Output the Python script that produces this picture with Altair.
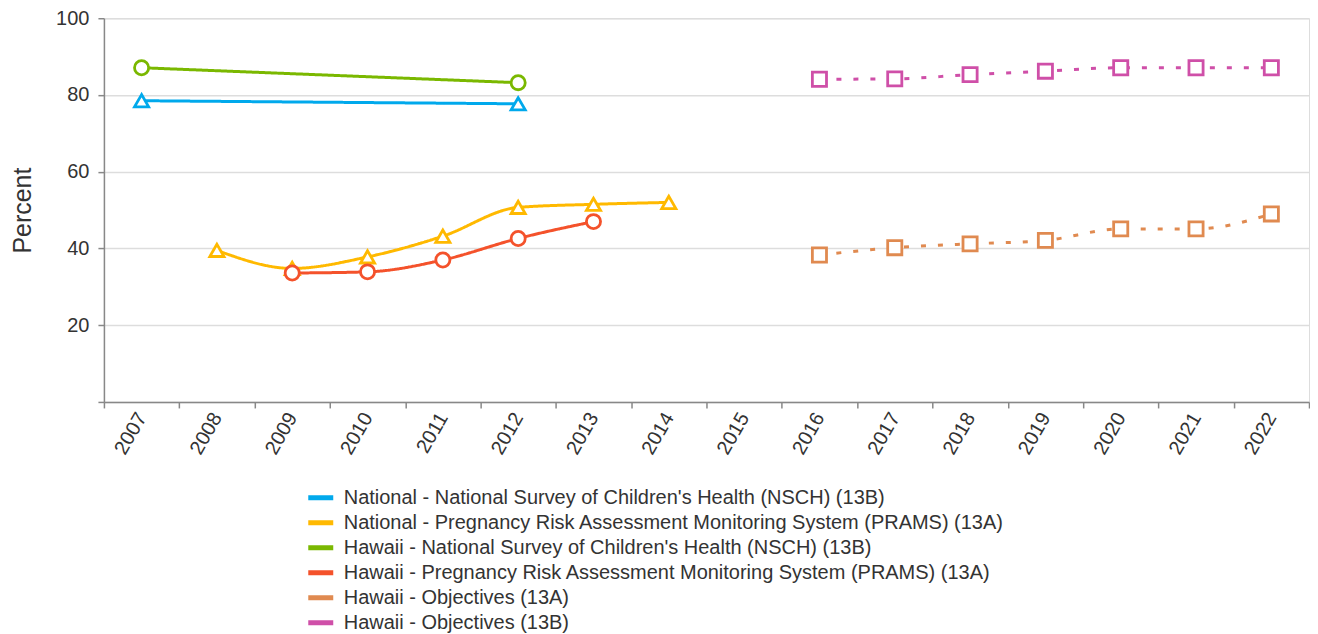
import altair as alt
import pandas as pd

years = [str(y) for y in range(2007, 2023)]

series_names = [
    "National - National Survey of Children's Health (NSCH) (13B)",
    "National - Pregnancy Risk Assessment Monitoring System (PRAMS) (13A)",
    "Hawaii - National Survey of Children's Health (NSCH) (13B)",
    "Hawaii - Pregnancy Risk Assessment Monitoring System (PRAMS) (13A)",
    "Hawaii - Objectives (13A)",
    "Hawaii - Objectives (13B)",
]
series_colors = ["#00a9ec", "#ffb900", "#7ab800", "#f4522b", "#e08a50", "#cf4fa8"]
series_shapes = ["triangle-up", "triangle-up", "circle", "circle", "square", "square"]
series_dashed = [False, False, False, False, True, True]

nat_nsch_years = ["2007", "2012"]
nat_nsch_vals = [78.5, 77.7]

nat_prams_years = ["2008", "2009", "2010", "2011", "2012", "2013", "2014"]
nat_prams_vals = [39.5, 34.8, 37.8, 43.2, 50.7, 51.5, 52.0]

hi_nsch_years = ["2007", "2012"]
hi_nsch_vals = [87.1, 83.2]

hi_prams_years = ["2009", "2010", "2011", "2012", "2013"]
hi_prams_vals = [33.6, 33.9, 37.0, 42.6, 47.0]

hi_obj13a_years = ["2016", "2017", "2018", "2019", "2020", "2021", "2022"]
hi_obj13a_vals = [38.3, 40.2, 41.2, 42.1, 45.1, 45.1, 49.0]

hi_obj13b_years = ["2016", "2017", "2018", "2019", "2020", "2021", "2022"]
hi_obj13b_vals = [84.1, 84.2, 85.3, 86.2, 87.1, 87.1, 87.1]

all_years = [nat_nsch_years, nat_prams_years, hi_nsch_years, hi_prams_years,
             hi_obj13a_years, hi_obj13b_years]
all_vals = [nat_nsch_vals, nat_prams_vals, hi_nsch_vals, hi_prams_vals,
            hi_obj13a_vals, hi_obj13b_vals]

rows = []
for name, ys, vs, dashed, shp in zip(series_names, all_years, all_vals,
                                     series_dashed, series_shapes):
    for y, v in zip(ys, vs):
        rows.append({"series": name, "shape": shp, "year": y, "value": v,
                     "dash": "dotted" if dashed else "solid"})
df = pd.DataFrame(rows)

FONT = "Liberation Sans"

x_enc = alt.X(
    "year:O",
    scale=alt.Scale(type="band", domain=years, paddingInner=0, paddingOuter=0),
    axis=alt.Axis(
        title=None, labelAngle=-60, labelFontSize=20, labelColor="#333333",
        labelFont=FONT, tickBand="extent", tickSize=6, tickColor="#888888",
        tickWidth=1.5, domainColor="#888888", domainWidth=1.5, labelPadding=6,
        grid=False,
    ),
)
y_enc = alt.Y(
    "value:Q",
    scale=alt.Scale(domain=[0, 100], nice=False),
    axis=alt.Axis(
        title="Percent", titleFontSize=25, titleFontWeight="normal",
        titleColor="#333333", titleFont=FONT, titlePadding=20,
        values=[0, 20, 40, 60, 80, 100],
        labelExpr="datum.value == 0 ? '' : datum.label",
        labelFontSize=20, labelColor="#333333", labelFont=FONT, labelPadding=9,
        tickSize=6, tickColor="#888888", tickWidth=1.5,
        domainColor="#888888", domainWidth=1.5,
        gridColor="#dddddd", gridWidth=1.5,
    ),
)

color_scale = alt.Scale(domain=series_names, range=series_colors)

lines = alt.Chart(df).mark_line(interpolate="monotone", strokeWidth=3).encode(
    x=x_enc,
    y=y_enc,
    color=alt.Color(
        "series:N", scale=color_scale, sort=series_names,
        legend=alt.Legend(
            title=None, orient="none", legendX=202, legendY=465,
            direction="vertical", columns=1,
            symbolType="stroke", symbolStrokeWidth=5, symbolSize=625,
            symbolDash=[1, 0],
            labelFontSize=20, labelColor="#333333", labelFont=FONT,
            labelLimit=1000, rowPadding=0, labelOffset=8,
        ),
    ),
    strokeDash=alt.StrokeDash(
        "dash:N",
        scale=alt.Scale(domain=["solid", "dotted"], range=[[1, 0], [5, 12]]),
        legend=None,
    ),
    detail="series:N",
)

points = alt.Chart(df).mark_point(
    filled=False, fill="white", fillOpacity=1, strokeWidth=2.8, size=200, opacity=1
).encode(
    x=x_enc,
    y=y_enc,
    stroke=alt.Stroke("series:N", scale=color_scale, legend=None),
    shape=alt.Shape("shape:N", scale=None),
)

chart = alt.layer(lines, points).properties(
    width=1206, height=384,
    padding={"left": 2, "top": 0, "right": 0, "bottom": 0},
).configure_view(stroke=None).configure(font=FONT)

chart.save("out.html", embed_options={"renderer": "svg", "actions": False})
